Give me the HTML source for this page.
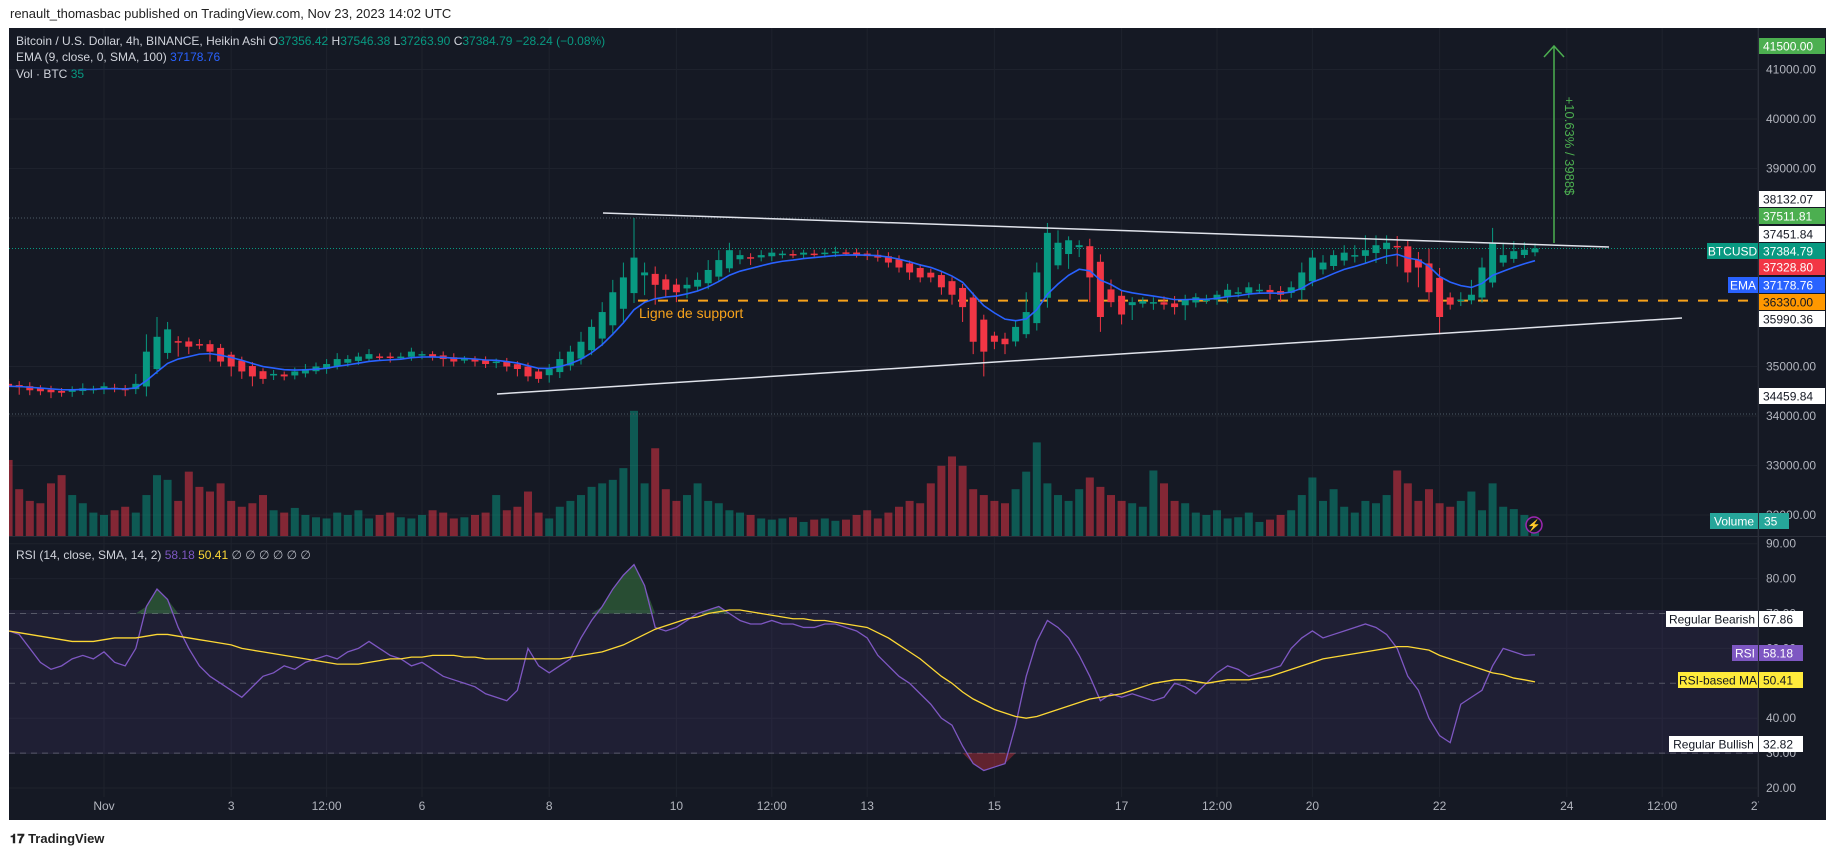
<!DOCTYPE html>
<html><head><meta charset="utf-8">
<style>
html,body{margin:0;padding:0;background:#fff;width:1835px;height:857px;overflow:hidden;font-family:"Liberation Sans",sans-serif}
#hdr{position:absolute;left:10px;top:6px;font-size:13px;color:#222}
#foot{position:absolute;left:10px;top:831px;font-size:13px;color:#222;font-weight:bold}
svg{position:absolute;left:0;top:0}
</style></head><body>
<div id="hdr">renault_thomasbac published on TradingView.com, Nov 23, 2023 14:02 UTC</div>
<div id="foot">𝟏𝟕 TradingView</div>
<svg id="chart" width="1835" height="857" font-family="Liberation Sans, sans-serif">
<defs>
<clipPath id="pc"><rect x="9" y="28" width="1749" height="508"/></clipPath>
<clipPath id="rc"><rect x="9" y="537" width="1749" height="260"/></clipPath>
</defs>
<rect x="9" y="28" width="1817" height="792" fill="#151924"/>
<g id="grid"></g>
<rect x="9" y="610" width="1749" height="144" fill="rgba(126,87,194,0.10)"/>
<g id="vol" clip-path="url(#pc)"></g>
<g id="price" clip-path="url(#pc)"></g>
<g id="rsi" clip-path="url(#rc)"></g>
<g id="axes"></g>
<line x1="9" y1="536.5" x2="1826" y2="536.5" stroke="#2a2e39"/>
<line x1="1758.5" y1="28" x2="1758.5" y2="797" stroke="#2a2e39"/>
<g font-size="12">
<text x="16" y="45" fill="#d1d4dc">Bitcoin / U.S. Dollar, 4h, BINANCE, Heikin Ashi <tspan fill="#d1d4dc">O</tspan><tspan fill="#089981">37356.42</tspan> <tspan fill="#d1d4dc">H</tspan><tspan fill="#089981">37546.38</tspan> <tspan fill="#d1d4dc">L</tspan><tspan fill="#089981">37263.90</tspan> <tspan fill="#d1d4dc">C</tspan><tspan fill="#089981">37384.79</tspan> <tspan fill="#089981">−28.24 (−0.08%)</tspan></text>
<text x="16" y="61" fill="#d1d4dc">EMA (9, close, 0, SMA, 100) <tspan fill="#2962ff">37178.76</tspan></text>
<text x="16" y="78" fill="#d1d4dc">Vol · BTC <tspan fill="#089981">35</tspan></text>
<text x="16" y="559" fill="#d1d4dc">RSI (14, close, SMA, 14, 2) <tspan fill="#7e57c2">58.18</tspan> <tspan fill="#fdd835">50.41</tspan> <tspan fill="#b2b5be">∅ ∅ ∅ ∅ ∅ ∅</tspan></text>
</g>
</svg>
<script>
const closes=[34600,34580,34520,34500,34480,34470,34520,34560,34550,34600,34560,34520,34650,35300,35600,
35750,35500,35400,35450,35300,35100,35000,34900,34800,34750,34850,34800,34900,34950,35000,35050,35150,35150,
35200,35250,35200,35180,35200,35300,35250,35200,35150,35100,35150,35100,35050,35100,35000,34950,34800,34750,
34950,35150,35300,35500,35800,36100,36500,36800,37200,36900,36650,36550,36500,36650,36750,36950,37150,37350,
37250,37200,37250,37300,37280,37250,37300,37280,37300,37320,37300,37260,37230,37200,37100,37000,36900,36800,
36800,36600,36450,36200,35500,35300,35500,35450,35800,36100,36900,37700,37500,37550,37450,36800,36000,36300,
36050,36300,36320,36300,36250,36200,36350,36400,36350,36450,36550,36500,36600,36550,36500,36450,36600,36900,
37200,37100,37250,37300,37250,37350,37450,37500,37420,36900,37000,36500,36000,36250,36350,36450,37000,37500,
37250,37330,37360,37385];
const wickUp=[100,80,80,60,80,60,80,100,60,80,80,60,200,350,400,150,100,80,100,80,80,60,80,80,60,80,60,
80,100,80,100,120,80,80,100,60,80,80,80,60,60,80,80,60,60,80,60,80,60,80,60,
100,150,120,200,150,200,250,300,800,200,150,100,120,150,150,200,200,150,100,80,100,80,60,80,60,80,80,100,60,
80,60,100,80,80,60,80,80,60,80,80,100,100,80,120,120,400,200,200,250,80,100,150,150,200,100,100,80,100,
120,150,100,80,100,80,120,100,100,120,100,100,120,200,150,150,100,150,200,300,200,150,200,120,150,300,
200,100,150,300,200,300,250,200,150,100];
const wickDn=[100,150,100,80,120,80,100,80,80,100,80,120,100,200,100,120,300,150,100,200,100,200,150,200,100,
100,80,80,80,60,100,60,80,80,60,80,100,60,80,100,80,150,100,80,100,80,120,100,150,100,80,
150,120,100,120,100,150,200,300,200,400,400,150,200,200,100,120,100,80,100,150,80,100,80,60,80,60,80,80,60,
60,80,80,100,100,150,100,100,150,200,300,250,500,150,200,100,80,150,200,80,300,200,500,300,100,200,300,
80,150,100,150,300,100,80,100,120,80,100,80,150,150,100,200,100,100,80,100,120,150,200,300,400,200,400,
200,350,100,100,80,100,100,80,80,60];
const volumes=[65,40,30,28,45,52,35,28,20,18,22,25,20,35,52,48,30,55,42,38,45,30,25,28,35,22,20,24,18,16,15,20,18,22,15,18,
20,16,15,18,22,20,15,16,18,20,35,22,25,38,20,15,25,30,35,42,45,48,58,107,45,75,40,30,35,45,30,28,22,20,18,15,
14,15,16,12,14,15,13,14,18,22,15,20,25,30,28,45,60,68,60,40,35,30,28,40,55,80,45,35,30,40,50,42,35,30,28,25,
56,45,30,28,20,18,22,15,16,20,12,14,18,22,35,50,30,40,25,20,30,28,35,56,45,30,40,28,25,30,38,22,45,25,23,18,5];
const rsiValues=[65,64,60,56,54,55,57,58,57,59,56,55,60,72,77,74,66,60,55,52,50,48,46,49,52,53,55,54,56,57,58,57,59,60,62,60,
58,57,55,56,54,52,51,50,49,47,46,45,48,60,55,53,55,57,63,68,72,77,81,84,78,66,65,66,68,70,71,72,70,68,67,67,
68,67,67,66,66,67,67,66,65,63,58,55,52,50,47,44,40,38,32,27,25,26,27,38,52,62,68,66,63,58,52,45,47,46,47,46,
45,46,50,49,47,50,53,55,54,52,53,54,55,60,63,65,63,64,65,66,67,66,64,60,52,48,40,35,33,44,46,48,55,60,59,58,58.18];
const rsiMA=[65,64.5,64,63.5,63,62.5,62,62,62,62.5,63,63,63,63.5,64,64,63.5,63,62.5,62,61.5,61,60,59.5,59,58.5,58,57.5,57,56.5,56,55.5,55.5,55.5,56,56.5,
57,57,57.5,57.5,58,58,58,57.5,57.5,57,57,57,57,57,57,57,57,57.5,58,58.5,59,60,61,62.5,64,65.5,66.5,67.5,68.5,69,70,70.5,71,71,70.5,70,
69.5,69,68.5,68.5,68,68,67.5,67,66.5,66,64.5,63,61,59,57,54.5,52,50,47.5,45.5,44,42.5,41.5,40.5,40,40.5,41.5,42.5,43.5,44.5,45.5,46,46.5,47,48,49,
50,50.5,51,51,50.5,50,50.5,51,51,51,51.5,52,53,54,55,56,57,57.5,58,58.5,59,59.5,60,60.5,60.5,60,59.5,58,57,56,55,54,53,52.5,51.5,51,50.41];
const priceTicks=[41000,40000,39000,35000,34000,33000,32000];
const rsiTicks=[90,80,70,60,40,30,20];
const timeLabels=["Nov","3","12:00","6","8","10","12:00","13","15","17","12:00","20","22","24","12:00","27"];
const timeDays=[0,2,3.5,5,7,9,10.5,12,14,16,17.5,19,21,23,24.5,26];

const NS="http://www.w3.org/2000/svg";
const PY=p=>119+(40000-p)*0.0495;
const X=i=>8.6+i*10.6;
const TX=d=>104+d*63.6;
const RY=r=>788-(r-20)*3.49;
const VY=v=>536-v*1.17;
function mk(tag,attrs,parent){const e=document.createElementNS(NS,tag);for(const k in attrs)e.setAttribute(k,attrs[k]);parent.appendChild(e);return e;}
const g=id=>document.getElementById(id);
const grid=g('grid'),axes=g('axes'),price=g('price'),vol=g('vol'),rsi=g('rsi');

priceTicks.forEach(p=>{
 const l=mk('line',{x1:9,x2:1758,y1:PY(p),y2:PY(p),stroke:'#1e222d'},grid);
 
 
 const t=mk('text',{x:1766,y:PY(p)+4,fill:'#b2b5be','font-size':12},axes);t.textContent=p.toFixed(2);
 
 
});
rsiTicks.forEach(r=>{
 const l=mk('line',{x1:9,x2:1758,y1:RY(r),y2:RY(r),stroke:'#1e222d'},grid);
 
 
 const t=mk('text',{x:1766,y:RY(r)+4,fill:'#b2b5be','font-size':12},axes);t.textContent=r.toFixed(2);
 
 
});
timeLabels.forEach((s,k)=>{
 const x=TX(timeDays[k]);
 const l=mk('line',{x1:x,x2:x,y1:28,y2:797,stroke:'#1e222d'},grid);
 
 
 const t=mk('text',{x:x,y:810,fill:'#b2b5be','font-size':12,'text-anchor':'middle'},axes);t.textContent=s;
 
 
});
mk('rect',{x:1759,y:798,width:67,height:22,fill:'#151924'},axes);

const opens=[];let o=34650;
for(let i=0;i<closes.length;i++){if(i>0)o=(opens[i-1]+closes[i-1])/2;opens.push(o);}
volumes.forEach((v,i)=>{
 if(i>=closes.length)return;
 const up=closes[i]>=opens[i];
 const r=mk('rect',{x:X(i)-4,y:VY(v),width:8,height:536-VY(v),fill:up?'rgba(8,153,129,0.5)':'rgba(242,54,69,0.5)'},vol);
 
 
});
[[218,'#4d5a66'],[414,'#4d5a66'],[PY(37384.79),'#089981']].forEach(a=>{
 const l=mk('line',{x1:9,x2:1758,y1:a[0],y2:a[0],stroke:a[1],'stroke-dasharray':'1 2'},price);
 
 
});
const sup=mk('line',{x1:638,x2:1758,y1:PY(36330),y2:PY(36330),stroke:'#f7a21b','stroke-width':2,'stroke-dasharray':'10 10'},price);


const st=mk('text',{x:639,y:318,fill:'#f7a21b','font-size':14},price);st.textContent='Ligne de support';


closes.forEach((c,i)=>{
 const op=opens[i],up=c>=op,col=up?'#089981':'#f23645';
 const hi=Math.max(op,c)+(wickUp[i]??80),lo=Math.min(op,c)-(wickDn[i]??80);
 const w=mk('line',{x1:X(i),x2:X(i),y1:PY(hi),y2:PY(lo),stroke:col,'stroke-width':1},price);
 
 
 const top=PY(Math.max(op,c)),h=Math.max(1.5,PY(Math.min(op,c))-top);
 const b=mk('rect',{x:X(i)-3.5,y:top,width:7,height:h,fill:col},price);
 
 
});
let e=closes[0],pts=[];
closes.forEach((c,i)=>{e=i?c*0.2+e*0.8:c;pts.push(X(i)+','+PY(e));});
const ema=mk('polyline',{points:pts.join(' '),fill:'none',stroke:'#2962ff','stroke-width':1.6},price);


const t1=mk('line',{x1:603,y1:213,x2:1609,y2:247,stroke:'#e0e3eb','stroke-width':1.5},price);


const t2=mk('line',{x1:497,y1:394,x2:1682,y2:318,stroke:'#e0e3eb','stroke-width':1.5},price);


const ma=mk('line',{x1:1554,y1:47,x2:1554,y2:243,stroke:'#4caf50','stroke-width':1.5},price);


const mh=mk('polyline',{points:'1544,57 1554,46 1564,57',fill:'none',stroke:'#4caf50','stroke-width':1.5},price);


const mt=mk('text',{x:1565,y:146,fill:'#4caf50','font-size':13,'text-anchor':'middle',transform:'rotate(90 1565 146)'},price);
mt.textContent='+10.63% / 3988$';


const ic=mk('circle',{cx:1534,cy:525,r:8,fill:'#151924',stroke:'#9c27b0','stroke-width':1.5},price);


const it=mk('text',{x:1534,y:529,fill:'#9c27b0','font-size':11,'text-anchor':'middle'},price);it.textContent='⚡';



[70,50,30].forEach(r=>{
 const l=mk('line',{x1:9,x2:1758,y1:RY(r),y2:RY(r),stroke:'#787b86','stroke-dasharray':'6 5','stroke-opacity':0.6},rsi);
 
 
});
function fillRuns(cond,lvl,color,name){
 let i=0;
 while(i<rsiValues.length){
  if(cond(rsiValues[i])){
   let a=Math.max(0,i-1),b=i;while(b<rsiValues.length&&cond(rsiValues[b]))b++;b=Math.min(b,rsiValues.length-1);
   let p=[];for(let k=a;k<=b;k++)p.push(X(k)+','+RY(cond(rsiValues[k])?rsiValues[k]:lvl));
   const f=mk('polygon',{points:p.join(' '),fill:color},rsi);
   
   
   i=b+1;
  } else i++;
 }
}
fillRuns(r=>r>70,70,'rgba(76,175,80,0.35)','rsi-overbought-fill');
fillRuns(r=>r<30,30,'rgba(242,54,69,0.35)','rsi-oversold-fill');
const rl=mk('polyline',{points:rsiValues.map((r,i)=>X(i)+','+RY(r)).join(' '),fill:'none',stroke:'#7e57c2','stroke-width':1.3},rsi);


const ml=mk('polyline',{points:rsiMA.map((r,i)=>X(i)+','+RY(r)).join(' '),fill:'none',stroke:'#fdd835','stroke-width':1.3},rsi);



const boxes=[
 [41500,'41500.00','#4caf50','#fff',46],[0,'38132.07','#fff','#131722',199],[0,'37511.81','#4caf50','#fff',216],
 [0,'37451.84','#fff','#131722',234],[0,'37384.79','#089981','#fff',251],[0,'37328.80','#f23645','#fff',267],
 [0,'37178.76','#2962ff','#fff',285],[0,'36330.00','#ff9800','#131722',302],[0,'35990.36','#fff','#131722',319],
 [0,'34459.84','#fff','#131722',396],[0,'67.86','#fff','#131722',619],[0,'58.18','#7e57c2','#fff',653],
 [0,'50.41','#ffeb3b','#131722',680],[0,'32.82','#fff','#131722',744]];
boxes.forEach(b=>{
 const wd=b[1].length>5?66:44;
 const r=mk('rect',{x:1759,y:b[4]-8,width:wd,height:16,fill:b[2]},axes);
 
 
 const t=mk('text',{x:1763,y:b[4]+4.5,fill:b[3],'font-size':12},axes);t.textContent=b[1];
 
 
});
const tags=[['BTCUSD',1707,251,'#089981','#fff'],['EMA',1728,285,'#2962ff','#fff'],['Volume',1710,521,'#26a69a','#fff'],
 ['Regular Bearish',1666,619,'#fff','#131722'],['RSI',1732,653,'#7e57c2','#fff'],['RSI-based MA',1678,680,'#ffeb3b','#131722'],
 ['Regular Bullish',1669,744,'#fff','#131722']];
tags.forEach(t=>{
 const r=mk('rect',{x:t[1],y:t[2]-8,width:1758-t[1],height:16,fill:t[3]},axes);
 
 
 const tx=mk('text',{x:(t[1]+1758)/2,y:t[2]+4.5,fill:t[4],'font-size':12,'text-anchor':'middle'},axes);tx.textContent=t[0];
 
 
});
const vr=mk('rect',{x:1759,y:513,width:30,height:16,fill:'#26a69a'},axes);


const vt=mk('text',{x:1764,y:525.5,fill:'#fff','font-size':12},axes);vt.textContent='35';


</script>
</body></html>
